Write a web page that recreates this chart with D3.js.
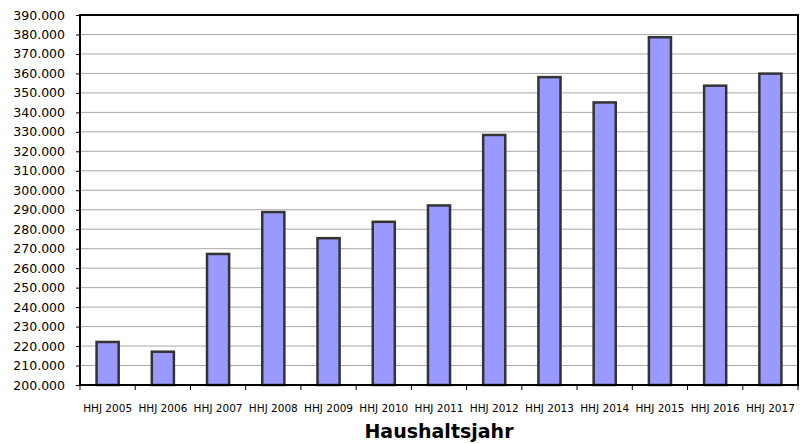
<!DOCTYPE html>
<html>
<head>
<meta charset="utf-8">
<script src="https://cdn.jsdelivr.net/npm/d3@7"></script>
<style>
  body { margin: 0; background: #fff; }
  svg { display: block; font-family: "DejaVu Sans", Verdana, sans-serif; }
</style>
</head>
<body>
<svg id="chart" width="800" height="444"></svg>
<script>
const width = 800, height = 444;

const jahre = ["HHJ 2005", "HHJ 2006", "HHJ 2007", "HHJ 2008", "HHJ 2009", "HHJ 2010", "HHJ 2011",
               "HHJ 2012", "HHJ 2013", "HHJ 2014", "HHJ 2015", "HHJ 2016", "HHJ 2017"];
const werte = [222100, 217100, 267300, 288800, 275400, 283800, 292200,
               328400, 358100, 345100, 378600, 353700, 359900];
const yTicks = d3.range(200000, 390001, 10000);

const m = { top: 15, right: 2, bottom: 59, left: 80 };

const svg = d3.select("#chart");

const x = d3.scaleBand()
    .domain(jahre)
    .range([m.left, width - m.right])
    .paddingInner(0.6)
    .paddingOuter(0.3);

const y = d3.scaleLinear()
    .domain([200000, 390000])
    .range([height - m.bottom, m.top]);

const fmt = d3.formatLocale({ decimal: ",", thousands: ".", grouping: [3], currency: ["", " €"] }).format(",.0f");

// gitternetz
svg.append("g")
    .selectAll("line")
    .data(yTicks)
    .join("line")
    .attr("x1", m.left).attr("x2", width - m.right)
    .attr("y1", d => y(d)).attr("y2", d => y(d))
    .attr("stroke", "#a8a8a8")
    .attr("stroke-width", 1);

// balken
svg.append("g")
    .selectAll("rect")
    .data(werte)
    .join("rect")
    .attr("x", (d, i) => x(jahre[i]))
    .attr("y", d => y(d))
    .attr("width", x.bandwidth())
    .attr("height", d => y(200000) - y(d))
    .attr("fill", "#9999ff")
    .attr("stroke", "#333")
    .attr("stroke-width", 2.5);

// rahmen
svg.append("rect")
    .attr("x", m.left).attr("y", m.top)
    .attr("width", width - m.left - m.right)
    .attr("height", height - m.top - m.bottom)
    .attr("fill", "none")
    .attr("stroke", "#000")
    .attr("stroke-width", 2);

const yAxis = svg.append("g")
    .attr("transform", `translate(${m.left},0)`)
    .call(d3.axisLeft(y).tickValues(yTicks).tickFormat(fmt).tickSize(4).tickPadding(11));
yAxis.select(".domain").remove();
yAxis.selectAll("text").attr("font-size", 12.5).attr("fill", "#000").attr("font-family", null);
yAxis.selectAll("line").attr("stroke", "#000");
yAxis.attr("font-family", null);

const xAxis = svg.append("g")
    .attr("transform", `translate(0,${height - m.bottom})`)
    .call(d3.axisBottom(x).tickSize(0).tickPadding(20));
xAxis.select(".domain").remove();
xAxis.attr("font-family", null);
xAxis.selectAll("text").attr("font-size", 10.5).attr("fill", "#000");

// ticks zwischen den kategorien
const step = x.step();
svg.append("g")
    .selectAll("line")
    .data(d3.range(jahre.length + 1))
    .join("line")
    .attr("x1", i => m.left + i * (width - m.left - m.right) / jahre.length)
    .attr("x2", i => m.left + i * (width - m.left - m.right) / jahre.length)
    .attr("y1", height - m.bottom)
    .attr("y2", height - m.bottom + 5)
    .attr("stroke", "#000");

svg.append("text")
    .attr("x", (m.left + width - m.right) / 2)
    .attr("y", 438)
    .attr("text-anchor", "middle")
    .attr("font-size", 19)
    .attr("font-weight", "bold")
    .text("Haushaltsjahr");
</script>
</body>
</html>
